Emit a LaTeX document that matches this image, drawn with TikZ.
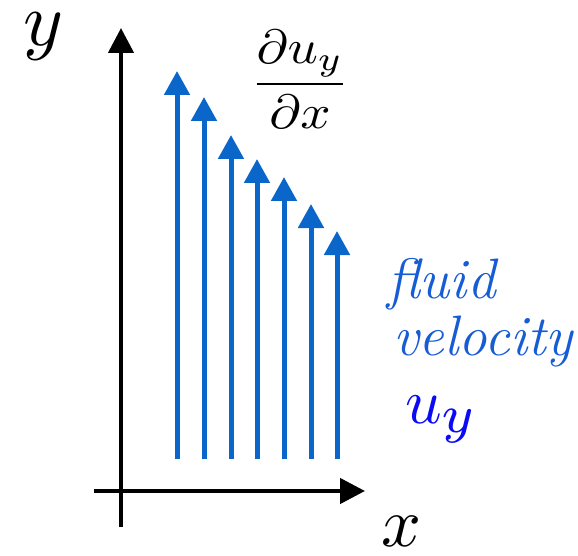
\documentclass[tikz,border=0pt]{standalone}
\usepackage{fontspec}
\usetikzlibrary{arrows.meta}
\definecolor{arrblue}{RGB}{10,102,200}
\definecolor{txtblue}{RGB}{22,92,212}
\definecolor{subblue}{RGB}{10,10,245}
\begin{document}
\begin{tikzpicture}[x=1pt,y=-1pt,
  axisline/.style={line width=4.5pt,black,-{Triangle[length=25pt,width=25pt]}},
  velarrow/.style={line width=5pt,arrblue,-{Triangle[length=24pt,width=25pt]}},
  lbl/.style={inner sep=0pt,anchor=base west},
  bluetxt/.style={lbl,text=txtblue,font=\fontsize{57}{60}\selectfont\itshape\addfontfeatures{FakeBold=1.3}}]
\useasboundingbox (0,0) rectangle (578,556);
% axes
\coordinate (yb) at (121,527);
\coordinate (yt) at (121,28);
\coordinate (xl) at (94,491);
\coordinate (xr) at (365,491);
\draw[axisline] (yb) -- (yt);
\draw[axisline] (xl) -- (xr);
% velocity arrows
\foreach \i/\xx/\tt in {1/177/71, 2/204/97, 3/231/135, 4/257/159, 5/284/177, 6/311/204, 7/337/231}{
  \coordinate (b\i) at (\xx,459);
  \coordinate (t\i) at (\xx,\tt);
  \draw[velarrow] (b\i) -- (t\i);
}
% labels
\node[lbl] (ylab) at (23,46) {\scalebox{7.6}{$y$}};
\node[lbl] (xlab) at (381,546) {\scalebox{7.0}{$x$}};
\node[inner sep=0pt,anchor=base] (frac) at (300,96) {\scalebox{5.3}[4.8]{$\displaystyle\frac{\partial u_y}{\partial x}$}};
\node[bluetxt] (fluid) at (387,298) {fluid};
\node[bluetxt] (vel) at (393,355) {velocity};
\node[lbl,text=subblue] (uy) at (405,423) {\scalebox{6.4}{$u_{\scalebox{1.2}{$\scriptstyle y$}}$}};
\end{tikzpicture}
\end{document}
